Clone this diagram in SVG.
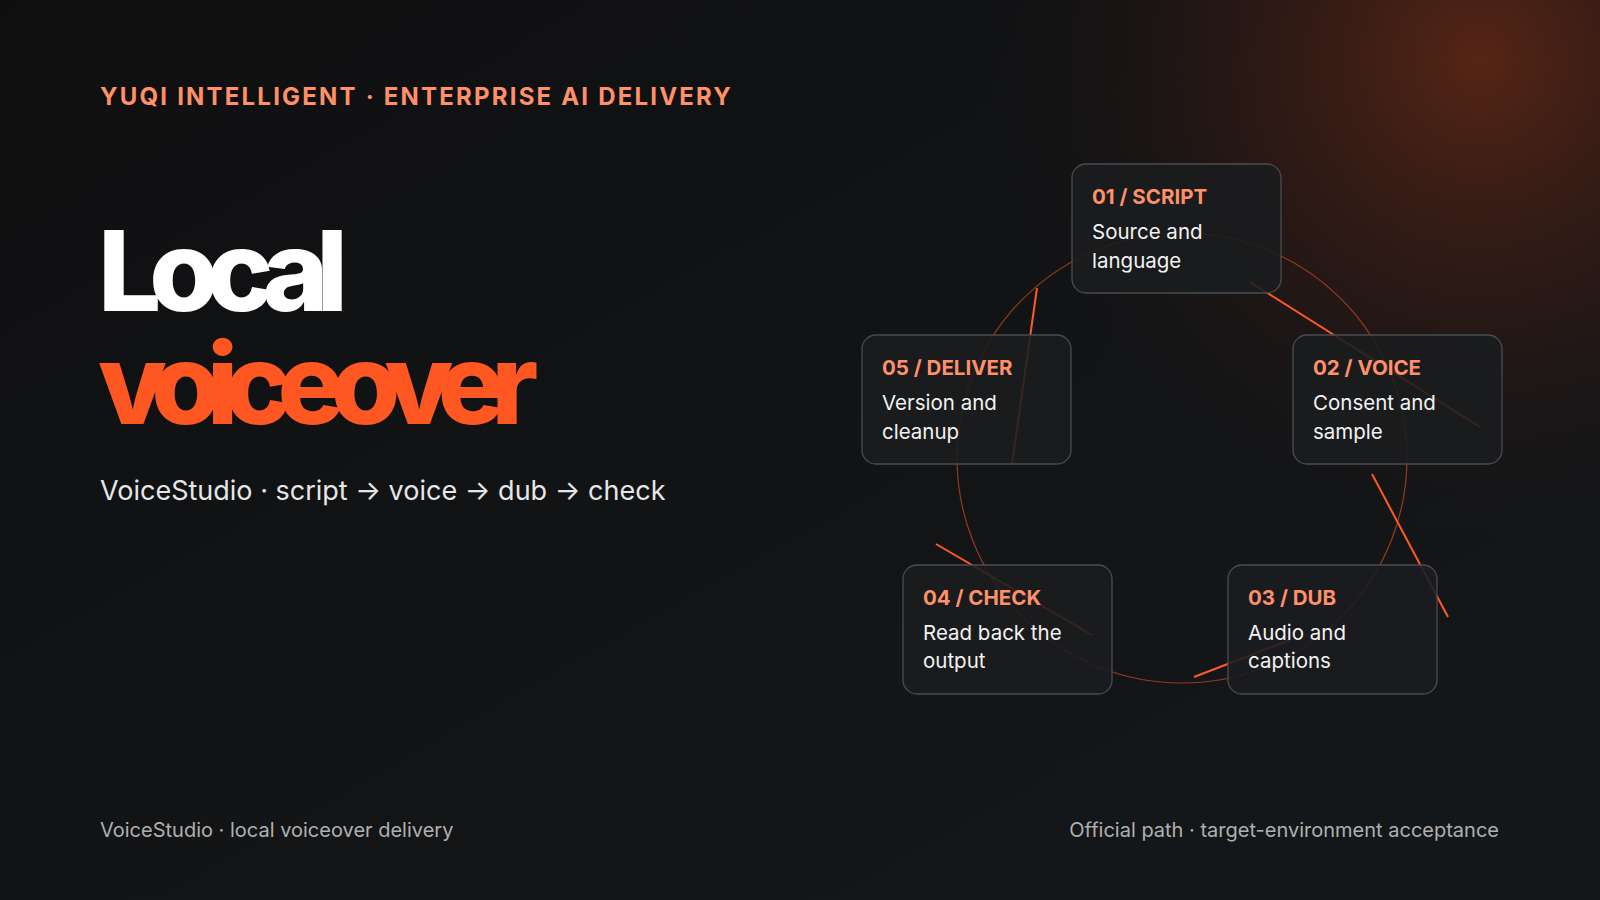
<svg xmlns="http://www.w3.org/2000/svg" width="1600" height="900" viewBox="0 0 1600 900">
<defs>
<radialGradient id="glow" cx="1480" cy="60" r="520" gradientUnits="userSpaceOnUse">
<stop offset="0" stop-color="#5a2616" stop-opacity="0.95"/>
<stop offset="0.5" stop-color="#3a1c14" stop-opacity="0.5"/>
<stop offset="1" stop-color="#111315" stop-opacity="0"/>
</radialGradient>
<linearGradient id="bg" x1="0" y1="0" x2="1" y2="1">
<stop offset="0" stop-color="#0f0f10"/>
<stop offset="1" stop-color="#15181b"/>
</linearGradient>
<style>
text{font-family:Inter,"Liberation Sans",sans-serif}
.box{fill:#1a1c1f;fill-opacity:0.88;stroke:#4a4c50;stroke-width:1.3}
.hd{fill:#ff9068;font-size:20.5px;font-weight:700}
.bd{fill:#f2f2f2;font-size:20.5px}
.ln{stroke:#ff5a24;stroke-width:2;fill:none}
</style>
</defs>
<rect width="1600" height="900" fill="url(#bg)"/>
<rect width="1600" height="900" fill="url(#glow)"/>
<text x="100" y="105" fill="#ff9068" font-size="24" font-weight="700" letter-spacing="2.2">YUQI INTELLIGENT · ENTERPRISE AI DELIVERY</text>
<text x="98" y="311" fill="#ffffff" font-size="112" font-weight="800" letter-spacing="-12">Local</text>
<text x="98" y="424" fill="#ff5722" font-size="112" font-weight="800" letter-spacing="-13.8">voiceover</text>
<text x="100" y="500" fill="#e6e6e6" font-size="27">VoiceStudio · script → voice → dub → check</text>
<text x="100" y="837" fill="#b0b0b0" font-size="20">VoiceStudio · local voiceover delivery</text>
<text x="1499" y="837" fill="#b0b0b0" font-size="20" text-anchor="end">Official path · target-environment acceptance</text>
<g id="connectors">
<circle cx="1182" cy="458" r="225" fill="none" stroke="#ff5a24" stroke-opacity="0.55" stroke-width="1.2"/>
<line class="ln" x1="1250" y1="282" x2="1480" y2="427"/>
<line class="ln" x1="1372" y1="474" x2="1448" y2="617"/>
<line class="ln" x1="1194" y1="677" x2="1290" y2="640"/>
<line class="ln" x1="936" y1="544" x2="1092" y2="635"/>
<line class="ln" x1="1037" y1="288" x2="1012" y2="464"/>
</g>
<g id="n01"><rect class="box" x="1072" y="164" width="209" height="129" rx="14"/><text class="hd" x="1092" y="204">01 / SCRIPT</text><text class="bd" x="1092" y="239">Source and</text><text class="bd" x="1092" y="268">language</text></g>
<g id="n02"><rect class="box" x="1293" y="335" width="209" height="129" rx="14"/><text class="hd" x="1313" y="375">02 / VOICE</text><text class="bd" x="1313" y="410">Consent and</text><text class="bd" x="1313" y="439">sample</text></g>
<g id="n03"><rect class="box" x="1228" y="565" width="209" height="129" rx="14"/><text class="hd" x="1248" y="605">03 / DUB</text><text class="bd" x="1248" y="640">Audio and</text><text class="bd" x="1248" y="668">captions</text></g>
<g id="n04"><rect class="box" x="903" y="565" width="209" height="129" rx="14"/><text class="hd" x="923" y="605">04 / CHECK</text><text class="bd" x="923" y="640">Read back the</text><text class="bd" x="923" y="668">output</text></g>
<g id="n05"><rect class="box" x="862" y="335" width="209" height="129" rx="14"/><text class="hd" x="882" y="375">05 / DELIVER</text><text class="bd" x="882" y="410">Version and</text><text class="bd" x="882" y="439">cleanup</text></g>
</svg>
